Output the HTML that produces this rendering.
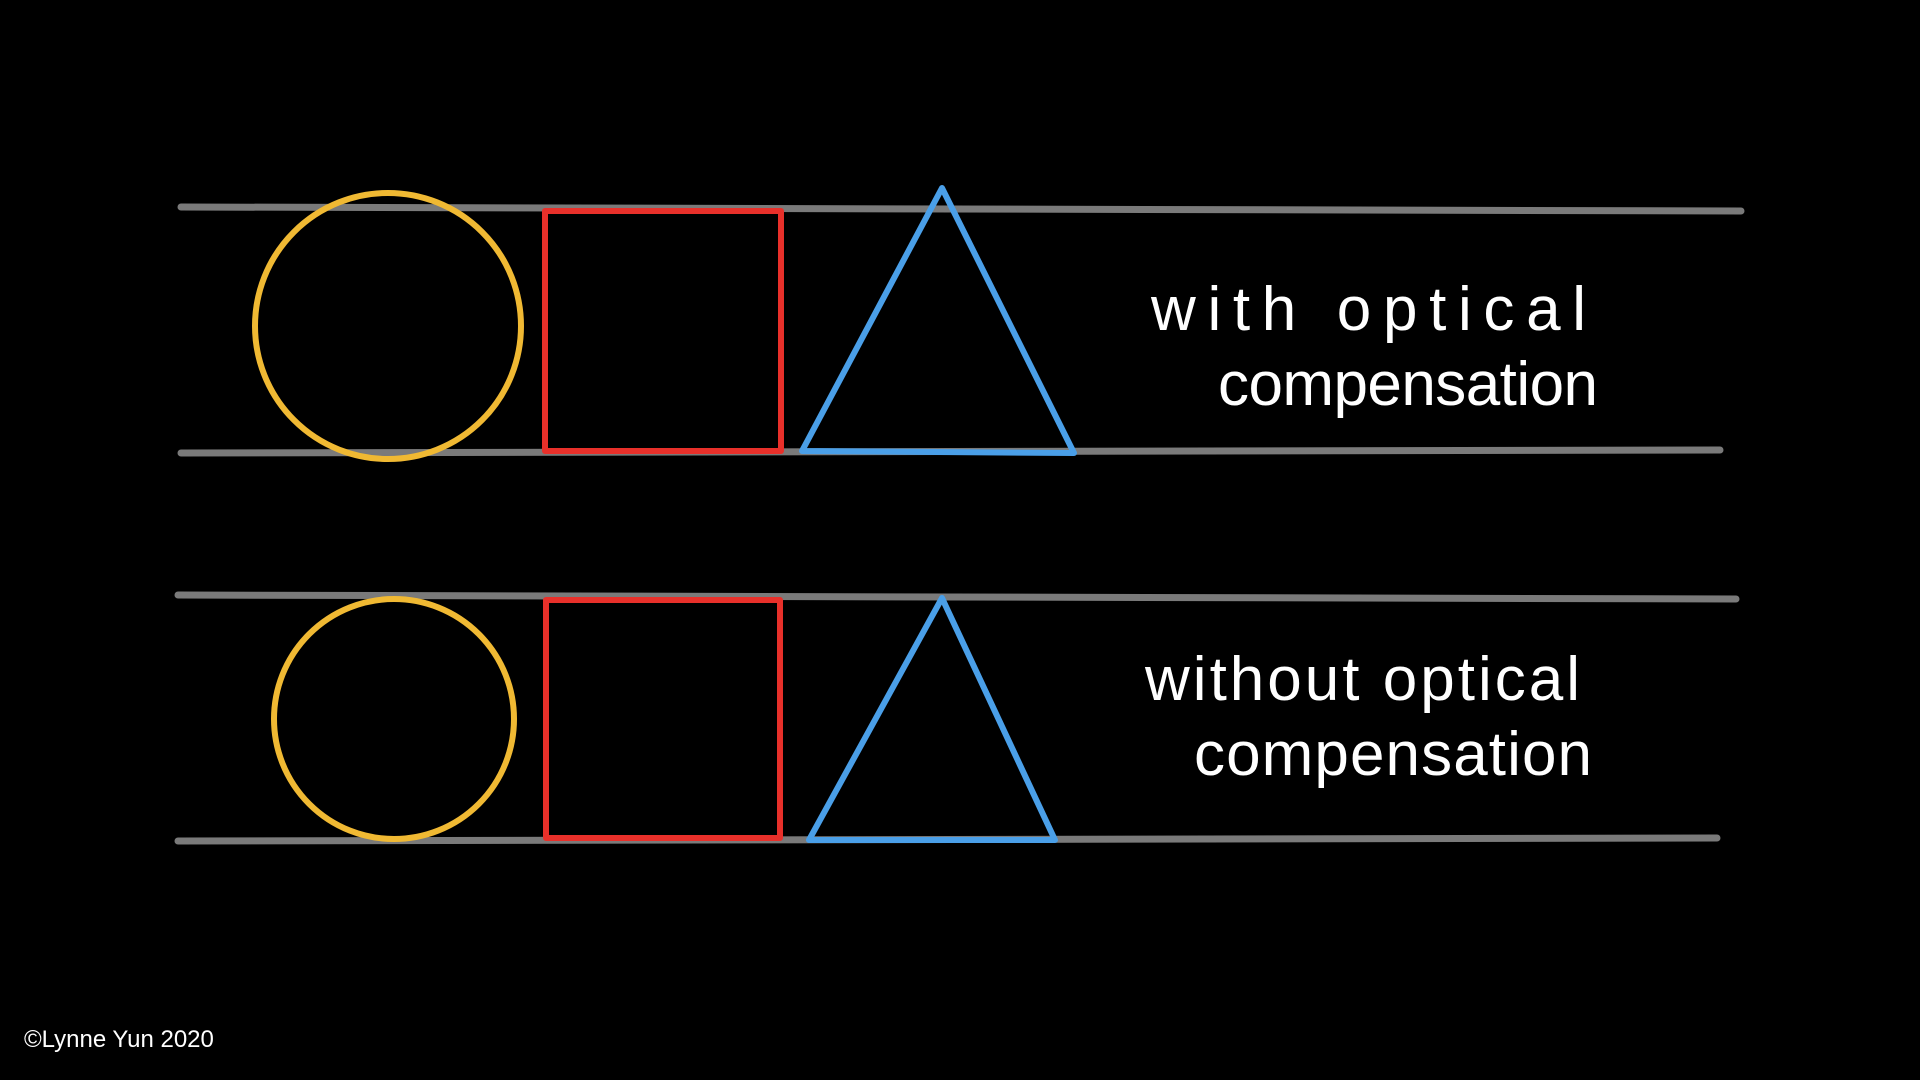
<!DOCTYPE html>
<html><head><meta charset="utf-8"><style>
html,body{margin:0;padding:0;background:#000;width:1920px;height:1080px;overflow:hidden}
svg{display:block}
</style></head><body>
<svg width="1920" height="1080" viewBox="0 0 1920 1080" xmlns="http://www.w3.org/2000/svg">
<rect width="1920" height="1080" fill="#000"/>
<g stroke="#7a7a7a" stroke-width="7" stroke-linecap="round" fill="none">
<line x1="181" y1="207" x2="1741" y2="211"/>
<line x1="181" y1="453" x2="1720" y2="450"/>
<line x1="178" y1="595" x2="1736" y2="599"/>
<line x1="178" y1="841" x2="1717" y2="838"/>
</g>
<g fill="none" stroke-width="6" stroke-linejoin="round">
<circle cx="388" cy="326" r="133" stroke="#f0b933"/>
<rect x="545" y="211" width="236" height="240" stroke="#e8302a"/>
<polygon points="942,188 802,451 1074,453" stroke="#4a9fe8"/>
<circle cx="394" cy="719" r="120" stroke="#f0b933"/>
<rect x="546" y="600" width="234" height="238" stroke="#e8302a"/>
<polygon points="942,598 809,840 1055,840" stroke="#4a9fe8"/>
</g>
<g fill="#fff" font-family="Liberation Sans, sans-serif" font-size="62">
<text x="1151" y="330" textLength="435" lengthAdjust="spacing">with optical</text>
<text x="1218" y="405" textLength="380" lengthAdjust="spacing">compensation</text>
<text x="1145" y="700" textLength="435" lengthAdjust="spacing">without optical</text>
<text x="1194" y="775" textLength="398" lengthAdjust="spacing">compensation</text>
</g>
<text x="24" y="1047" fill="#fff" font-family="Liberation Sans, sans-serif" font-size="24">©Lynne Yun 2020</text>
</svg>
</body></html>
